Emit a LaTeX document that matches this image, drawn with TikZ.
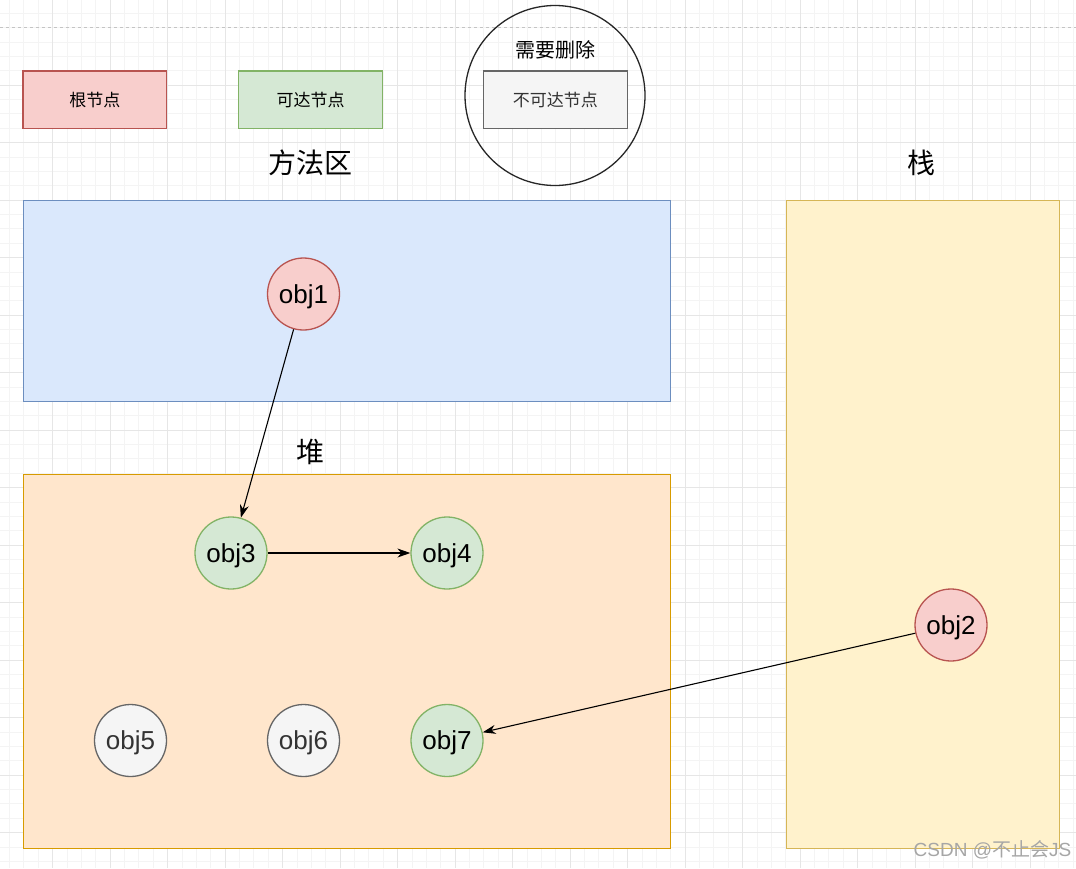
\documentclass[tikz,border=0pt]{standalone}
\usepackage{fontspec}
\setmainfont{Liberation Sans}
\newfontfamily\cjk{Noto Sans CJK SC}
\usepackage{xcolor}
\usetikzlibrary{arrows.meta,positioning}

\definecolor{gridminor}{HTML}{F4F4F4}
\definecolor{gridmajor}{HTML}{E6E6E6}
\definecolor{pageline}{HTML}{C4C4C4}
\definecolor{rootfill}{HTML}{F8CECC}
\definecolor{rootline}{HTML}{B85450}
\definecolor{reachfill}{HTML}{D5E8D4}
\definecolor{reachline}{HTML}{82B366}
\definecolor{lostfill}{HTML}{F5F5F5}
\definecolor{lostline}{HTML}{666666}
\definecolor{methodfill}{HTML}{DAE8FC}
\definecolor{methodline}{HTML}{6C8EBF}
\definecolor{heapfill}{HTML}{FFE6CC}
\definecolor{heapline}{HTML}{D79B00}
\definecolor{stackfill}{HTML}{FFF2CC}
\definecolor{stackline}{HTML}{D6B656}

\begin{document}
\begin{tikzpicture}[x=1pt,y=-1pt,
  minorgrid/.style={draw=gridminor,line width=0.7pt},
  majorgrid/.style={draw=gridmajor,line width=0.9pt},
  region/.style={rectangle,line width=1.3pt,anchor=north west,inner sep=0pt},
  legbox/.style={rectangle,line width=1.3pt,minimum width=143.75pt,minimum height=57.5pt,inner sep=0pt,font=\cjk\fontsize{17}{20}\selectfont},
  obj/.style={circle,line width=1.3pt,minimum size=72pt,inner sep=0pt,text depth=0pt,font=\fontsize{26}{30}\selectfont},
  rootobj/.style={obj,fill=rootfill,draw=rootline},
  reachobj/.style={obj,fill=reachfill,draw=reachline},
  lostobj/.style={obj,fill=lostfill,draw=lostline,text=black!80},
  heading/.style={font=\cjk\fontsize{28}{32}\selectfont},
  ref/.style={-{Stealth[length=13pt,width=9pt]},line width=1.1pt}]
  \useasboundingbox[fill=white] (0,0) rectangle (1076,868);

  % background grid
  \foreach \i in {0,...,74} {
    \pgfmathsetmacro\gx{9.375+14.375*\i}
    \draw[minorgrid] (\gx,0) -- (\gx,868);
  }
  \foreach \i in {0,...,59} {
    \pgfmathsetmacro\gy{13.125+14.375*\i}
    \draw[minorgrid] (0,\gy) -- (1076,\gy);
  }
  \foreach \i in {0,...,17} {
    \pgfmathsetmacro\gx{52.5+57.5*\i}
    \draw[majorgrid] (\gx,0) -- (\gx,868);
  }
  \foreach \i in {1,...,14} {
    \pgfmathsetmacro\gy{27.5+57.5*\i}
    \draw[majorgrid] (0,\gy) -- (1076,\gy);
  }
  \draw[pageline,dashed,line width=0.9pt] (0,27.5) -- (1076,27.5);

  % legend
  \node[legbox,fill=rootfill,draw=rootline] (rootkey) at (94.9,99.75) {根节点};
  \node[legbox,fill=reachfill,draw=reachline] (reachkey) at (310.6,99.75) {可达节点};
  \node[circle,draw=black!85,line width=1.3pt,minimum size=180pt,inner sep=0pt] (delring) at (555,95.5) {};
  \node[font=\cjk\fontsize{20}{24}\selectfont] (deltitle) at (555,50) {需要删除};
  \node[legbox,fill=lostfill,draw=lostline,text=black!80] (lostkey) at (555.4,99.75) {不可达节点};

  % memory areas
  \node[heading] (methodtitle) at (310,163) {方法区};
  \node[heading] (stacktitle) at (921.5,163) {栈};
  \node[heading] (heaptitle) at (310,452) {堆};
  \node[region,fill=methodfill,draw=methodline,minimum width=647pt,minimum height=201pt] (method) at (23,200) {};
  \node[region,fill=heapfill,draw=heapline,minimum width=647pt,minimum height=374pt] (heap) at (23,474) {};
  \node[region,fill=stackfill,draw=stackline,minimum width=273pt,minimum height=648pt] (stack) at (786,200) {};

  % objects
  \node[rootobj] (obj1) at (303.5,294) {obj1};
  \node[rootobj] (obj2) at (951,625) {obj2};
  \node[reachobj] (obj3) at (231,553) {obj3};
  \node[reachobj] (obj4) at (447,553) {obj4};
  \node[lostobj] (obj5) at (130.5,740.5) {obj5};
  \node[lostobj] (obj6) at (303.5,740.5) {obj6};
  \node[reachobj] (obj7) at (447,740.5) {obj7};

  \draw[ref] (obj1) -- (obj3);
  \draw[ref] (obj3) -- (obj4);
  \draw[ref] (obj2) -- (obj7);

  \node[font=\fontsize{19}{22}\selectfont,text=black!35] (mark) at (992.5,850) {CSDN @{\cjk 不止会}JS};
\end{tikzpicture}
\end{document}
